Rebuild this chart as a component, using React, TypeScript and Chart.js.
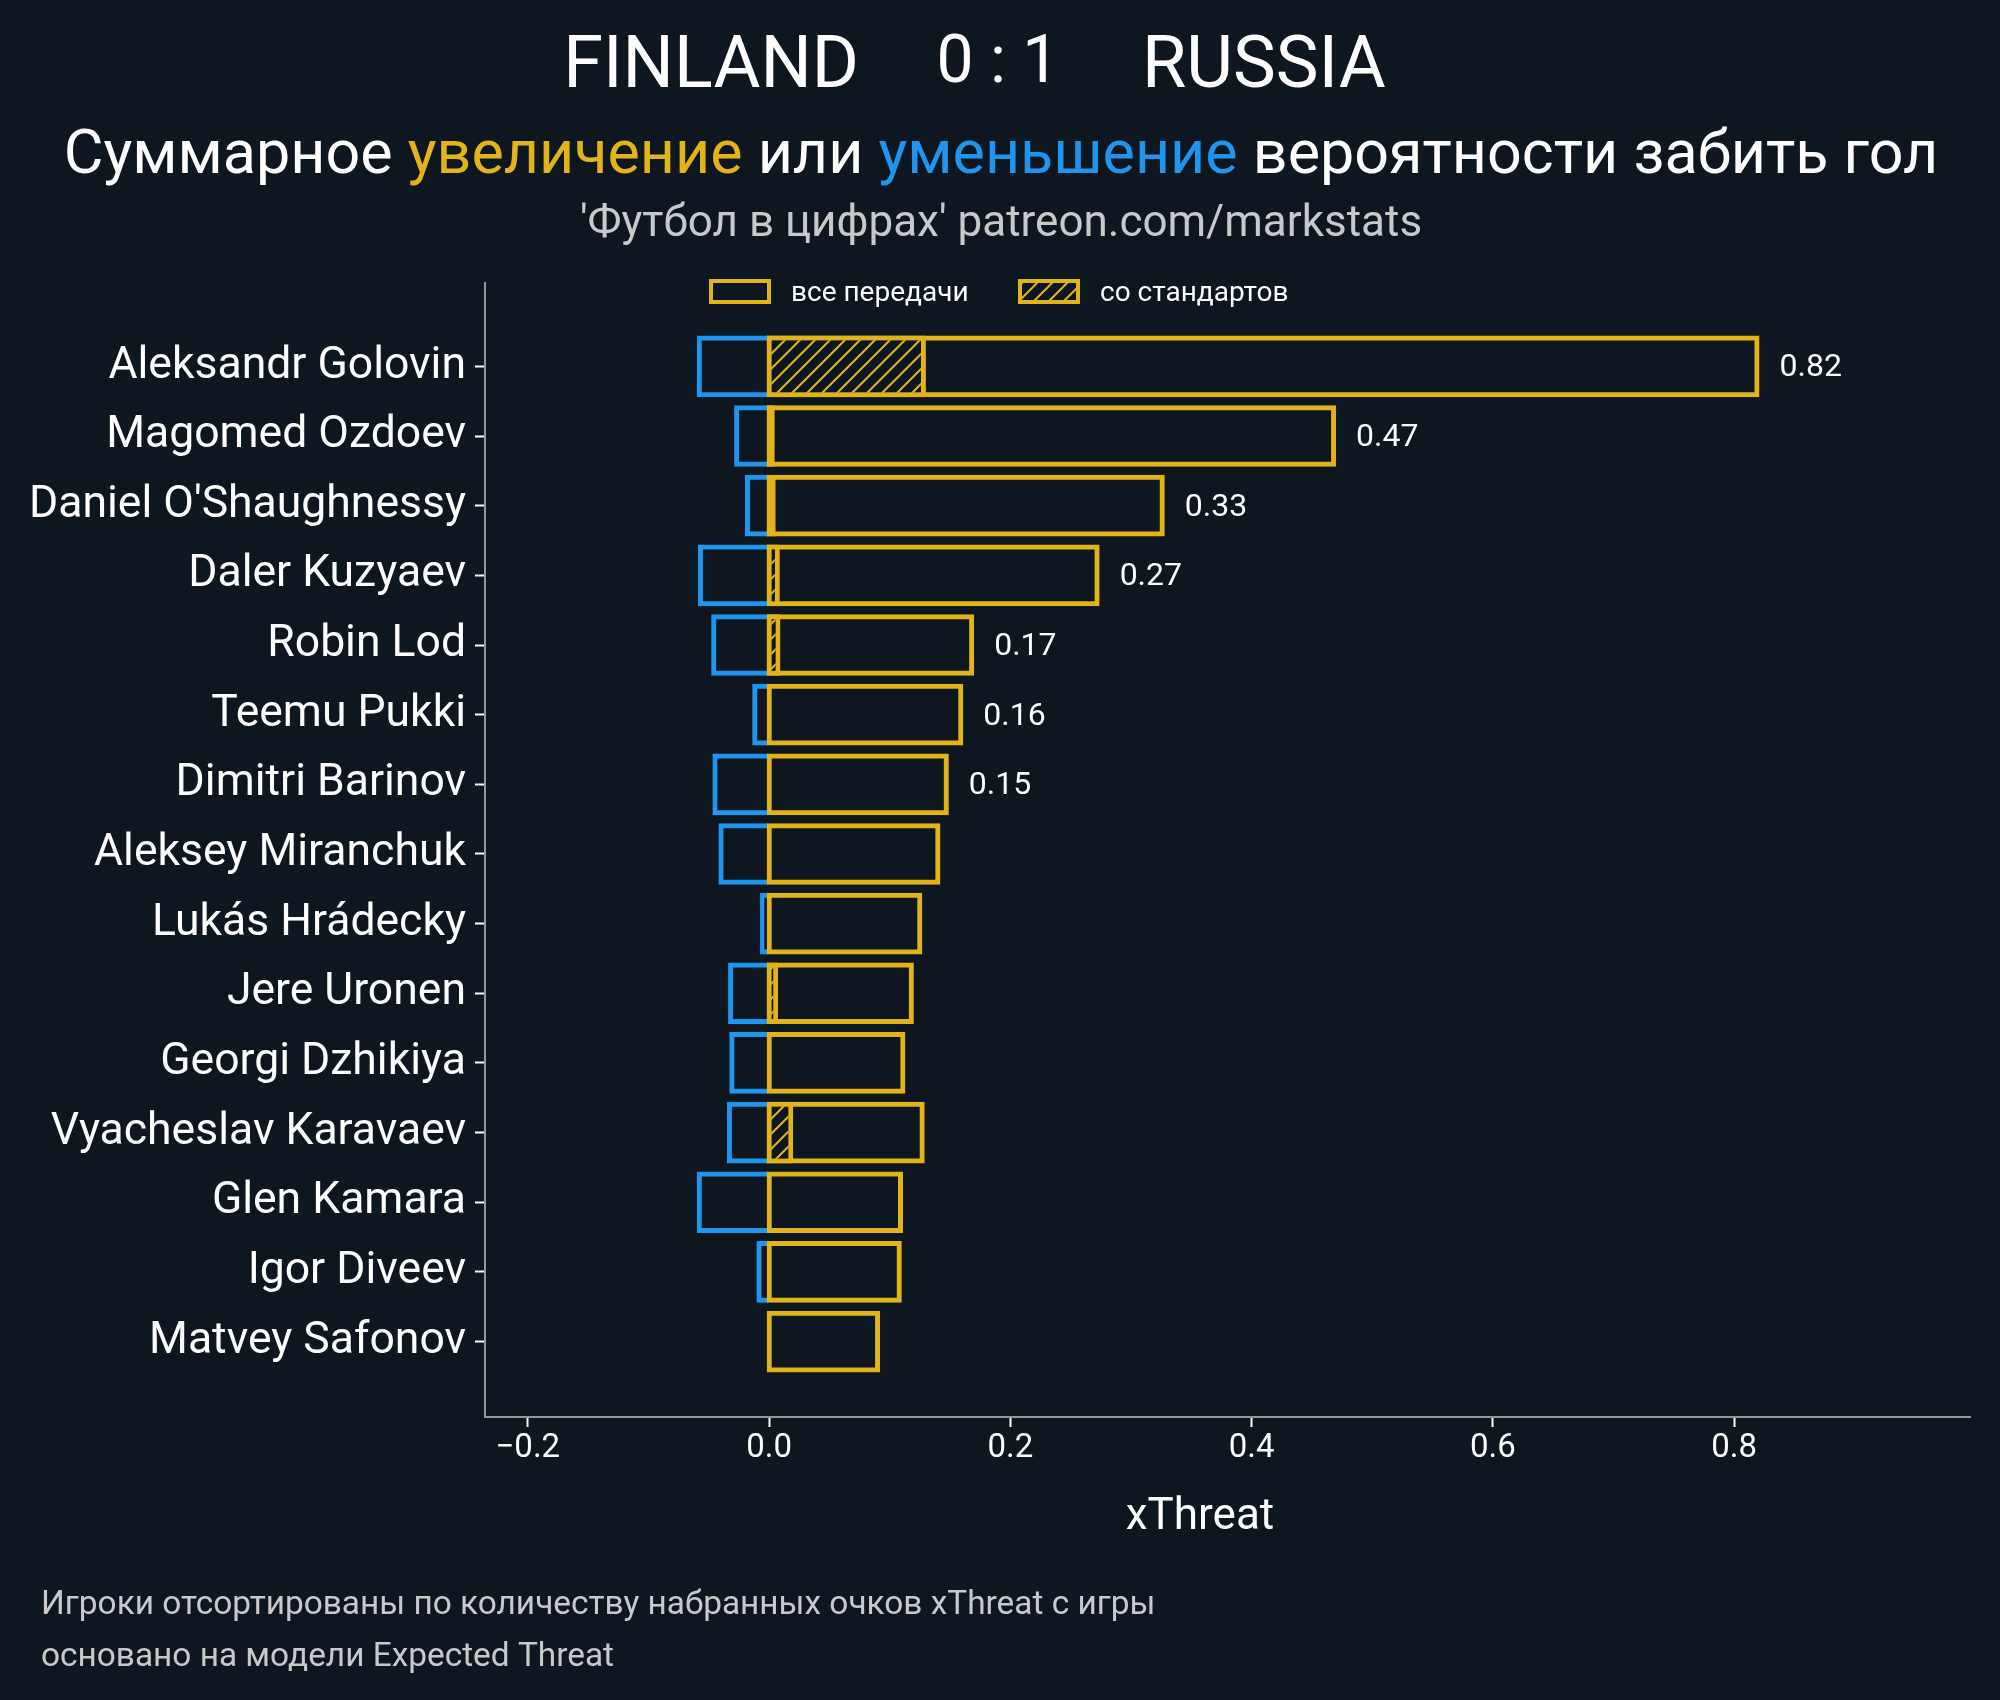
import React, { useEffect, useRef } from "react";
import { Chart, registerables } from "chart.js";

Chart.register(...registerables);

// ---------- data ----------
const players = [
  "Aleksandr Golovin",
  "Magomed Ozdoev",
  "Daniel O'Shaughnessy",
  "Daler Kuzyaev",
  "Robin Lod",
  "Teemu Pukki",
  "Dimitri Barinov",
  "Aleksey Miranchuk",
  "Lukás Hrádecky",
  "Jere Uronen",
  "Georgi Dzhikiya",
  "Vyacheslav Karavaev",
  "Glen Kamara",
  "Igor Diveev",
  "Matvey Safonov",
];

// total xThreat added by all passes
const totalIncrease = [0.821, 0.47, 0.328, 0.274, 0.17, 0.161, 0.149, 0.142, 0.127, 0.12, 0.113, 0.129, 0.111, 0.11, 0.092];
// total xThreat lost
const totalDecrease = [-0.06, -0.029, -0.02, -0.059, -0.048, -0.014, -0.047, -0.042, -0.0075, -0.034, -0.033, -0.035, -0.06, -0.0105, 0];
// xThreat added from set pieces
const setPieceIncrease = [0.13, 0.0047, 0.0055, 0.0089, 0.0094, 0, 0, 0, 0, 0.0075, 0, 0.02, 0, 0, 0];
// value labels shown to the right of the bars
const valueLabels = ["0.82", "0.47", "0.33", "0.27", "0.17", "0.16", "0.15", "", "", "", "", "", "", "", ""];

const xTicks = [-0.2, 0, 0.2, 0.4, 0.6, 0.8];

const titleHome = "FINLAND";
const titleScore = "0 : 1";
const titleAway = "RUSSIA";
const subtitleParts = [
  { text: "Суммарное ", color: "white" },
  { text: "увеличение", color: "yellow" },
  { text: " или ", color: "white" },
  { text: "уменьшение", color: "blue" },
  { text: " вероятности забить гол", color: "white" },
];
const sourceLine = "'Футбол в цифрах' patreon.com/markstats";
const legendLabels = ["все передачи", "со стандартов"];
const xAxisTitle = "xThreat";
const footnotes = [
  "Игроки отсортированы по количеству набранных очков xThreat с игры",
  "основано на модели Expected Threat",
];

// ---------- style ----------
const BG = "#0e1720";
const YELLOW = "#e3b419";
const BLUE = "#1e96f0";
const SPINE = "#8a9b98";
const WHITE = "#ffffff";
const GREY = "#c9c9c9";
const FONT = "Roboto";
// matplotlib centres edge lines on the zero line; emulate by starting the
// outlined bars half a line width left of zero
const EDGE_BASE = -0.002;

const colorOf = (c: string) => (c === "yellow" ? YELLOW : c === "blue" ? BLUE : WHITE);

function makeHatch(): CanvasPattern | string {
  const c = document.createElement("canvas");
  c.width = 15;
  c.height = 15;
  const g = c.getContext("2d");
  if (!g) return BG;
  g.fillStyle = BG;
  g.fillRect(0, 0, 15, 15);
  g.strokeStyle = YELLOW;
  g.lineWidth = 2;
  g.beginPath();
  g.moveTo(-2, 17);
  g.lineTo(17, -2);
  g.moveTo(-2, 2);
  g.lineTo(2, -2);
  g.moveTo(13, 17);
  g.lineTo(17, 13);
  g.stroke();
  return g.createPattern(c, "repeat") || BG;
}

export default function App() {
  const ref = useRef<HTMLCanvasElement | null>(null);

  useEffect(() => {
    document.body.style.margin = "0";
    document.body.style.background = BG;
    let chart: Chart | null = null;
    let cancelled = false;

    const build = () => {
      if (cancelled || !ref.current) return;
      const hatch = makeHatch();

      const decor = {
        id: "decor",
        beforeDraw(c: any) {
          const ctx = c.ctx;
          ctx.save();
          ctx.fillStyle = BG;
          ctx.fillRect(0, 0, c.width, c.height);
          ctx.restore();
        },
        afterDatasetsDraw(c: any) {
          const ctx = c.ctx;
          const xs = c.scales.x;
          const ys = c.scales.y;
          ctx.save();
          ctx.fillStyle = WHITE;
          ctx.font = `32px ${FONT}`;
          ctx.textAlign = "left";
          ctx.textBaseline = "middle";
          valueLabels.forEach((lab, i) => {
            if (!lab) return;
            ctx.fillText(lab, xs.getPixelForValue(totalIncrease[i]) + 20, ys.getPixelForValue(i) + 2);
          });
          ctx.restore();
        },
        afterDraw(c: any) {
          const ctx = c.ctx;
          ctx.save();
          ctx.textBaseline = "alphabetic";
          // title
          ctx.fillStyle = WHITE;
          ctx.font = `72px ${FONT}`;
          ctx.textAlign = "right";
          ctx.fillText(titleHome, 859, 87);
          ctx.textAlign = "left";
          ctx.fillText(titleAway, 1142, 87);
          ctx.font = `66px ${FONT}`;
          ctx.textAlign = "center";
          ctx.fillText(titleScore, 998, 82);

          // subtitle
          ctx.font = `61px ${FONT}`;
          ctx.textAlign = "left";
          const total = subtitleParts.reduce((s, p) => s + ctx.measureText(p.text).width, 0);
          let x = 1001 - total / 2;
          subtitleParts.forEach((p) => {
            ctx.fillStyle = colorOf(p.color);
            ctx.fillText(p.text, x, 173);
            x += ctx.measureText(p.text).width;
          });

          // source line
          ctx.font = `44px ${FONT}`;
          ctx.fillStyle = GREY;
          ctx.textAlign = "center";
          ctx.fillText(sourceLine, 1001, 236);

          // legend
          const boxes = [
            { x: 709, fill: BG },
            { x: 1018, fill: hatch },
          ];
          boxes.forEach((b, i) => {
            ctx.fillStyle = b.fill;
            ctx.fillRect(b.x + 2, 281, 58, 21);
            ctx.strokeStyle = YELLOW;
            ctx.lineWidth = 4;
            ctx.strokeRect(b.x + 2, 281, 58, 21);
            ctx.fillStyle = WHITE;
            ctx.font = `28px ${FONT}`;
            ctx.textAlign = "left";
            ctx.textBaseline = "middle";
            ctx.fillText(legendLabels[i], b.x + 82, 294);
          });

          // x axis title
          ctx.textBaseline = "alphabetic";
          ctx.fillStyle = WHITE;
          ctx.font = `44px ${FONT}`;
          ctx.textAlign = "center";
          ctx.fillText(xAxisTitle, 1200, 1529);

          // footnotes
          ctx.fillStyle = GREY;
          ctx.font = `33.4px ${FONT}`;
          ctx.textAlign = "left";
          ctx.fillText(footnotes[0], 41, 1614);
          ctx.fillText(footnotes[1], 41, 1666);
          ctx.restore();
        },
      };

      const pts = (arr: number[]) => arr.map((v, i) => ({ x: v === 0 ? null : v, y: i }));

      chart = new Chart(ref.current, {
        type: "bar",
        data: {
          datasets: [
            {
              label: legendLabels[1],
              data: pts(setPieceIncrease) as any,
              backgroundColor: hatch as any,
              borderColor: YELLOW,
              borderWidth: 5,
              borderSkipped: false,
              base: EDGE_BASE,
              grouped: false,
              barPercentage: 0.885,
              categoryPercentage: 1,
            },
            {
              label: legendLabels[0],
              data: pts(totalIncrease) as any,
              backgroundColor: "rgba(0,0,0,0)",
              borderColor: YELLOW,
              borderWidth: 5,
              borderSkipped: false,
              base: EDGE_BASE,
              grouped: false,
              barPercentage: 0.885,
              categoryPercentage: 1,
            },
            {
              label: "decrease",
              data: pts(totalDecrease) as any,
              backgroundColor: "rgba(0,0,0,0)",
              borderColor: BLUE,
              borderWidth: 5,
              borderSkipped: "start",
              grouped: false,
              barPercentage: 0.885,
              categoryPercentage: 1,
            },
          ] as any,
        },
        options: {
          indexAxis: "y",
          responsive: false,
          animation: false,
          devicePixelRatio: 1,
          layout: { padding: { left: 0, right: 30, top: 283, bottom: 0 } },
          plugins: {
            legend: { display: false },
            title: { display: false },
            tooltip: { enabled: false },
          },
          scales: {
            x: {
              type: "linear",
              min: -0.2355,
              max: 0.9955,
              offset: false,
              afterBuildTicks: (s: any) => {
                s.ticks = xTicks.map((v) => ({ value: v }));
              },
              afterFit: (s: any) => {
                s.height = 283;
              },
              ticks: {
                callback: (v: any) => (v < 0 ? "\u2212" + Math.abs(v).toFixed(1) : Number(v).toFixed(1)),
                color: WHITE,
                font: { family: FONT, size: 33 },
                padding: 2,
                autoSkip: false,
                maxRotation: 0,
              },
              grid: { offset: false, drawOnChartArea: false, drawTicks: true, tickLength: 10, tickWidth: 2, tickColor: WHITE },
              border: { display: true, color: SPINE, width: 2 },
            },
            y: {
              type: "linear",
              reverse: true,
              offset: false,
              min: -1.197,
              max: 15.083,
              afterBuildTicks: (s: any) => {
                s.ticks = players.map((_, i) => ({ value: i }));
              },
              afterFit: (s: any) => {
                s.width = 485;
              },
              ticks: {
                callback: (v: any) => players[v] ?? "",
                color: WHITE,
                font: { family: FONT, size: 44.5 },
                padding: 9,
                autoSkip: false,
              },
              grid: { offset: false, drawOnChartArea: false, drawTicks: true, tickLength: 10, tickWidth: 2, tickColor: WHITE },
              border: { display: true, color: SPINE, width: 2 },
            },
          },
        } as any,
        plugins: [decor as any],
      });
    };

    const fonts: any = (document as any).fonts;
    if (fonts && fonts.load) {
      Promise.all([fonts.load(`45px ${FONT}`), fonts.load(`30px ${FONT}`)])
        .catch(() => null)
        .then(build);
    } else {
      build();
    }

    return () => {
      cancelled = true;
      if (chart) chart.destroy();
    };
  }, []);

  return <canvas ref={ref} width={2000} height={1700} style={{ display: "block", width: 2000, height: 1700 }} />;
}
